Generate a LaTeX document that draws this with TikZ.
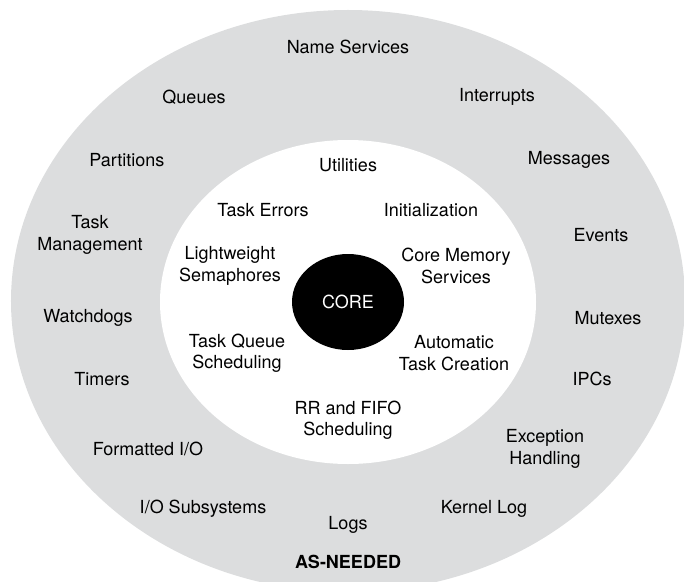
\documentclass[tikz,border=0pt]{standalone}
\usepackage{fontspec}
\setmainfont{TeX Gyre Heros}
\usetikzlibrary{positioning}
\definecolor{ringgray}{HTML}{DCDDDE}

\begin{document}
\begin{tikzpicture}[x=1pt,y=1pt,
  lbl/.style={font=\fontsize{18}{21.5}\selectfont,align=center,inner sep=0pt}]
\useasboundingbox (-348,-280) rectangle (336,301);
\fill[ringgray] (0,0) ellipse[x radius=337,y radius=291];
\fill[white] (0,-1) ellipse[x radius=188,y radius=162];
\fill[black] (0,-1) ellipse[x radius=56,y radius=48];
\node[lbl,text=white] (core) at (0,-1) {CORE};
\node[lbl] (util) at (0,136) {Utilities};
\node[lbl] (terr) at (-85,91) {Task Errors};
\node[lbl] (init) at (83,91) {Initialization};
\node[lbl] (lsem) at (-118,35) {Lightweight\\Semaphores};
\node[lbl] (cmem) at (108,35) {Core Memory\\Services};
\node[lbl] (tqs) at (-111,-52) {Task Queue\\Scheduling};
\node[lbl] (atc) at (106,-52) {Automatic\\Task Creation};
\node[lbl] (rr) at (0,-119) {RR and FIFO\\Scheduling};
\node[lbl] (name) at (0,254) {Name Services};
\node[lbl] (que) at (-154,204) {Queues};
\node[lbl] (intr) at (149,204) {Interrupts};
\node[lbl] (part) at (-221,141) {Partitions};
\node[lbl] (msg) at (221,141) {Messages};
\node[lbl] (tman) at (-258,66) {Task\\Management};
\node[lbl] (evt) at (253,66) {Events};
\node[lbl] (wdog) at (-260,-17) {Watchdogs};
\node[lbl] (mutx) at (260,-17) {Mutexes};
\node[lbl] (tmr) at (-246,-78) {Timers};
\node[lbl] (ipc) at (244,-78) {IPCs};
\node[lbl] (fio) at (-200,-148) {Formatted I/O};
\node[lbl] (exc) at (197,-148) {Exception\\Handling};
\node[lbl] (iosub) at (-145,-208) {I/O Subsystems};
\node[lbl] (klog) at (136,-208) {Kernel Log};
\node[lbl] (logs) at (0,-224) {Logs};
\node[lbl,font=\fontsize{18}{21.5}\selectfont\bfseries] (asn) at (0,-261) {AS-NEEDED};
\end{tikzpicture}
\end{document}
